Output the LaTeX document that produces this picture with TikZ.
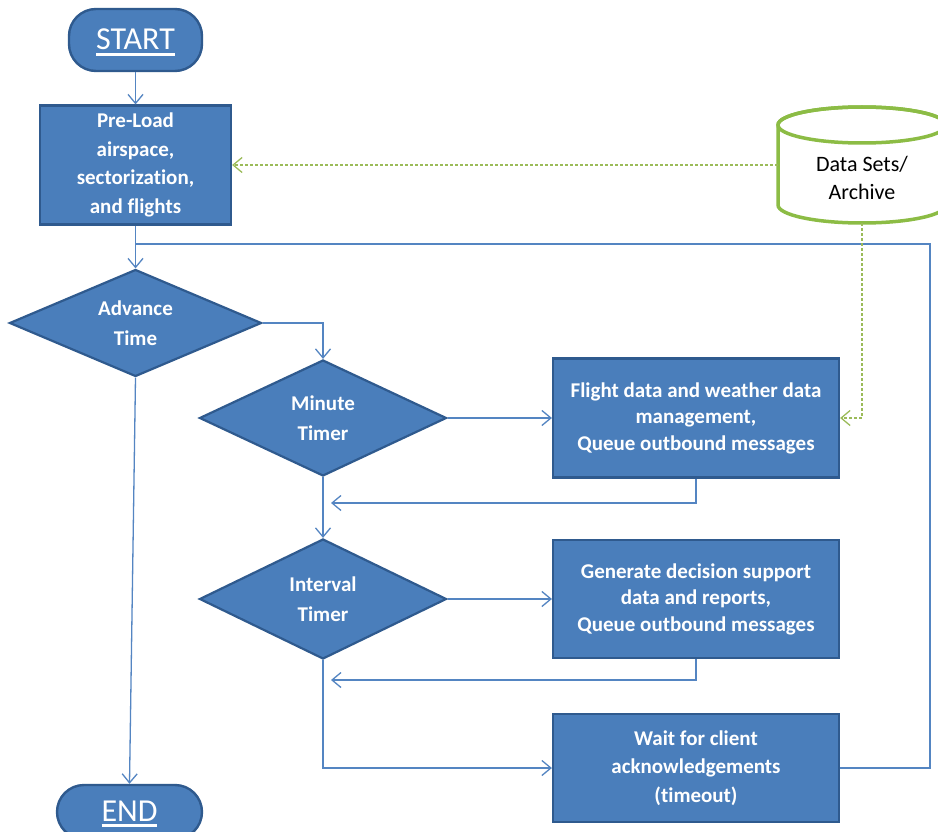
\documentclass[tikz,border=0pt]{standalone}
\usepackage{fontspec}
\setmainfont{Carlito}[Ligatures=NoCommon]
\usetikzlibrary{shapes.geometric,arrows.meta}
\definecolor{boxfill}{HTML}{4A7EBB}
\definecolor{boxdraw}{HTML}{2F5A8E}
\definecolor{linec}{HTML}{5485C2}
\definecolor{cylg}{HTML}{8CBC45}
\definecolor{dashg}{HTML}{9BBB59}
\newcommand{\ulword}[1]{\setbox0=\hbox{#1}\vtop{\copy0\kern3pt\hrule height 2.6pt}}
\begin{document}
\begin{tikzpicture}[x=1pt,y=-1pt,
  box/.style={rectangle, draw=boxdraw, fill=boxfill, line width=2.2pt, text=white, align=center, inner sep=0pt, font=\bfseries\fontsize{21}{26.5}\selectfont},
  tallbox/.style={box, font=\bfseries\fontsize{21}{28.5}\selectfont},
  dia/.style={diamond, aspect=2, draw=boxdraw, fill=boxfill, line width=2.2pt, text=white, align=center, inner sep=0pt, font=\bfseries\fontsize{21}{30}\selectfont},
  term/.style={rectangle, rounded corners=27pt, draw=boxdraw, fill=boxfill, line width=2.4pt, text=white, inner sep=0pt, font=\fontsize{32}{36}\selectfont},
  conn/.style={draw=linec, line width=1.3pt},
  arr/.style={conn, -{Straight Barb[length=9pt,width=15pt]}},
  garr/.style={draw=dashg, line width=1.3pt, dash pattern=on 3pt off 2pt, -{Straight Barb[length=9pt,width=15pt]}},
  dstext/.style={align=center, text=black, inner sep=0pt, font=\fontsize{22}{28}\selectfont}]
\fill[white] (0,0) rectangle (938,832);
\useasboundingbox (0,0) rectangle (938,832);

% cylinder (data store)
\node[minimum width=168, minimum height=116, inner sep=0pt] (ds) at (862,165) {};
\filldraw[draw=cylg, fill=white, line width=3.5pt]
  (778,125) -- (778,205) arc[start angle=180, end angle=0, x radius=84, y radius=18]
  -- (946,125) arc[start angle=0, end angle=-180, x radius=84, y radius=18] -- cycle;
\draw[cylg, line width=3.5pt] (862,125) ellipse[x radius=84, y radius=18];
\node[dstext] (dslab) at (862,178) {Data Sets/\\Archive};

% nodes
\node[term, minimum width=133, minimum height=62, text height=22pt, text depth=2pt] (start) at (135.5,40) {\ulword{START}};
\node[tallbox, minimum width=191, minimum height=119] (pre) at (135.5,165) {Pre-Load\\airspace,\\sectorization,\\and flights};
\node[dia, minimum width=252, minimum height=107] (adv) at (135.5,323) {Advance\\Time};
\node[dia, minimum width=247, minimum height=116] (mint) at (323,418) {Minute\\Timer};
\node[dia, minimum width=247, minimum height=120] (intt) at (323,599) {Interval\\Timer};
\node[box, minimum width=286, minimum height=119] (fd) at (696,418) {Flight data and weather data\\management,\\Queue outbound messages};
\node[box, minimum width=286, minimum height=118] (gen) at (696,599) {Generate decision support\\data and reports,\\Queue outbound messages};
\node[tallbox, minimum width=286, minimum height=108] (wait) at (696,768) {Wait for client\\acknowledgements\\(timeout)};
\node[term, minimum width=145, minimum height=54, text height=20pt, text depth=2pt] (endn) at (129.5,812) {\ulword{END}};

% coordinates
\coordinate (lr) at (930,244);
\coordinate (j1) at (135.5,244);
\coordinate (fb1) at (331,503);
\coordinate (fb2) at (331,680);

% connectors
\draw[arr] (start) -- (pre);
\draw[arr] (pre) -- (adv);
\draw[conn] (wait.east) -| (lr) -- (j1);
\draw[arr] (adv.east) -| (mint.north);
\draw[arr] (adv.south) -- (endn.north);
\draw[arr] (mint.east) -- (fd.west);
\draw[arr] (fd.south) |- (fb1);
\draw[arr] (mint.south) -- (intt.north);
\draw[arr] (intt.east) -- (gen.west);
\draw[arr] (gen.south) |- (fb2);
\draw[arr] (intt.south) |- (wait.west);
\draw[garr] (ds.west) -- (pre.east);
\draw[garr] (ds.south) |- (fd.east);
\end{tikzpicture}
\end{document}
